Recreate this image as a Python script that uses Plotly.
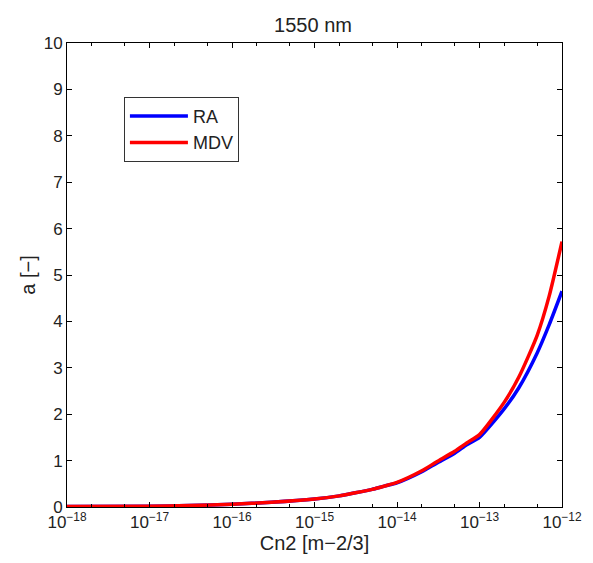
import plotly.graph_objects as go

cn2 = [1e-18, 1e-17, 3e-17, 1e-16, 3e-16, 1e-15, 2e-15, 3e-15, 5e-15, 7e-15,
       1e-14, 2e-14, 3e-14, 5e-14, 7e-14, 1e-13, 2e-13, 3e-13, 5e-13, 7e-13, 1e-12]
a_ra = [0.01, 0.015, 0.03, 0.06, 0.10, 0.17, 0.24, 0.30, 0.38, 0.45,
        0.52, 0.76, 0.94, 1.16, 1.34, 1.50, 2.12, 2.57, 3.32, 3.93, 4.65]
a_mdv = [0.01, 0.015, 0.03, 0.06, 0.10, 0.17, 0.24, 0.30, 0.38, 0.45,
         0.53, 0.78, 0.97, 1.20, 1.38, 1.56, 2.26, 2.80, 3.70, 4.55, 5.72]

x_tickvals = [1e-18, 1e-17, 1e-16, 1e-15, 1e-14, 1e-13, 1e-12]
x_ticktext = ["10<sup>\u221218</sup>", "10<sup>\u221217</sup>", "10<sup>\u221216</sup>",
              "10<sup>\u221215</sup>", "10<sup>\u221214</sup>", "10<sup>\u221213</sup>",
              "10<sup>\u221212</sup>"]
y_tickvals = list(range(0, 11))

fig = go.Figure()
fig.add_trace(go.Scatter(x=cn2, y=a_ra, mode="lines", name="RA",
                         line=dict(color="#0000ff", width=3.5, shape="spline", smoothing=0.6)))
fig.add_trace(go.Scatter(x=cn2, y=a_mdv, mode="lines", name="MDV",
                         line=dict(color="#ff0000", width=3.5, shape="spline", smoothing=0.6)))

fig.update_layout(
    width=585, height=555,
    margin=dict(l=59, r=31, t=35, b=56),
    paper_bgcolor="white", plot_bgcolor="white",
    font=dict(family="Liberation Sans, Arial, sans-serif", size=17, color="#222222"),
    title=dict(text="1550 nm", x=305 / 585, xanchor="center",
               y=1 - 17 / 555, yanchor="middle", font=dict(size=20, color="#222222")),
    showlegend=True,
    legend=dict(x=0.115, y=0.884, xanchor="left", yanchor="top",
                bgcolor="white", bordercolor="#333333", borderwidth=1,
                font=dict(size=18, color="#222222"), tracegroupgap=0,
                itemwidth=58),
    xaxis=dict(type="log", range=[-18, -12], tickvals=x_tickvals, ticktext=x_ticktext,
               ticks="inside", ticklen=5, tickcolor="black", showline=True,
               linecolor="black", linewidth=1, mirror="allticks", showgrid=False,
               zeroline=False,
               minor=dict(ticks="inside", ticklen=3, tickcolor="black", showgrid=False),
               title=dict(text="Cn2 [m\u22122/3]", standoff=4, font=dict(size=20)),
               tickfont=dict(size=17)),
    yaxis=dict(range=[0, 10], tickvals=y_tickvals, ticks="inside", ticklen=5,
               tickcolor="black", showline=True, linecolor="black", linewidth=1,
               mirror="allticks", showgrid=False, zeroline=False,
               title=dict(text="a [\u2212]", standoff=2, font=dict(size=20)),
               tickfont=dict(size=17)),
)

fig.write_html("out.html")
